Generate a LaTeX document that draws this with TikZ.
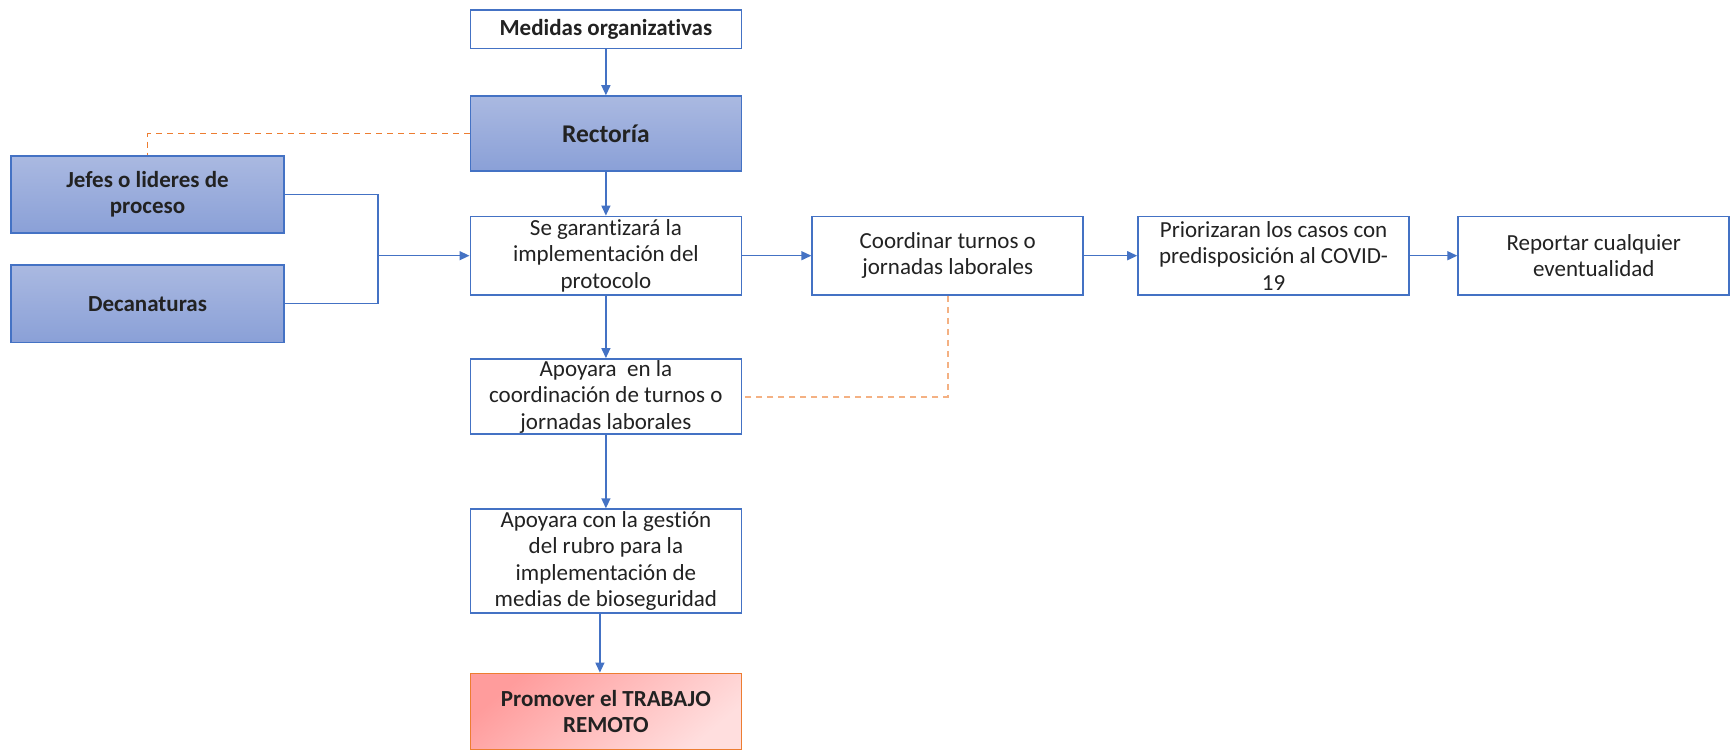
\documentclass[tikz,border=0pt]{standalone}
\usepackage{fontspec}
\setmainfont{Carlito}[Ligatures=NoCommon]
\usetikzlibrary{arrows.meta,calc}
\newcommand\tiSep{t\kern0pt i}
\definecolor{mblue}{HTML}{4472C4}
\definecolor{gtop}{HTML}{AAB9E1}
\definecolor{gbot}{HTML}{8AA0D7}
\definecolor{morange}{HTML}{ED7D31}
\definecolor{lorange}{HTML}{F4B183}
\definecolor{ptop}{HTML}{FF9C9C}
\definecolor{pbot}{HTML}{FFDEDE}
\definecolor{txt}{HTML}{222222}
\tikzset{
  box/.style={draw=mblue, line width=1.8pt, fill=white, inner sep=0pt, align=center,
    text=txt, font=\fontsize{23}{26.5}\selectfont, minimum width=271pt},
  bluebox/.style={box, top color=gtop, bottom color=gbot, font=\fontsize{23}{26.5}\selectfont\bfseries},
  pinkbox/.style={box, draw=morange, top color=ptop, bottom color=pbot, shading angle=40,
    font=\fontsize{23}{26.5}\selectfont\bfseries},
  conn/.style={draw=mblue, line width=1.4pt},
  arr/.style={conn, -{Triangle[length=10pt,width=9pt]}},
  dash1/.style={draw=morange, line width=1.4pt, dash pattern=on 6pt off 5pt},
  dash2/.style={draw=lorange, line width=2pt, dash pattern=on 6pt off 5pt},
}
\begin{document}
\begin{tikzpicture}[x=1pt,y=-1pt]
\useasboundingbox (0,0) rectangle (1732,751);
\node[box, minimum height=38.7pt, font=\fontsize{23}{26.5}\selectfont\bfseries] (med) at (605.9,29.25) {Medidas organiza\tiSep vas};
\node[bluebox, minimum height=75pt] (rec) at (605.9,133.65) {\fontsize{25.5}{28}\selectfont Rectoría};
\node[bluebox, minimum width=273pt, minimum height=77.4pt] (jef) at (147.5,194.4) {Jefes o lideres de\\proceso};
\node[bluebox, minimum width=273pt, minimum height=77.3pt] (dec) at (147.5,303.75) {Decanaturas};
\node[box, minimum height=78.4pt] (se) at (605.9,255.7) {Se garan\tiSep zará la\\implementación del\\protocolo};
\node[box, minimum height=78.4pt] (coo) at (947.75,255.7) {Coordinar turnos o\\jornadas laborales};
\node[box, minimum height=78.4pt] (pri) at (1273.6,255.7) {Priorizaran los casos con\\predisposición al COVID-\\19};
\node[box, minimum height=78.4pt] (rep) at (1593.75,255.7) {Reportar cualquier\\eventualidad};
\node[box, minimum height=75pt] (ap1) at (605.9,396.5) {Apoyara~ en la\\coordinación de turnos o\\jornadas laborales};
\node[box, minimum height=103.8pt] (ap2) at (605.9,561.1) {Apoyara con la ges\tiSep ón\\del rubro para la\\implementación de\\medias de bioseguridad};
\node[pinkbox, minimum height=76pt] (pro) at (605.9,711.5) {Promover el TRABAJO\\REMOTO};
\coordinate (jx) at (377.8,255.7);
\draw[arr] (med) -- (rec);
\draw[arr] (rec) -- (se);
\draw[conn] (jef.east) -| (jx) |- (dec.east);
\draw[arr] (jx) -- (se.west);
\draw[arr] (se) -- (coo);
\draw[arr] (coo) -- (pri);
\draw[arr] (pri) -- (rep);
\draw[arr] (se) -- (ap1);
\draw[arr] (ap1) -- (ap2);
\draw[arr] ([xshift=-6pt]ap2.south) -- ([xshift=-6pt]pro.north);
\draw[dash1] (rec.west) -| (jef.north);
\draw[dash2] (coo.south) |- (ap1.east);
\end{tikzpicture}
\end{document}
